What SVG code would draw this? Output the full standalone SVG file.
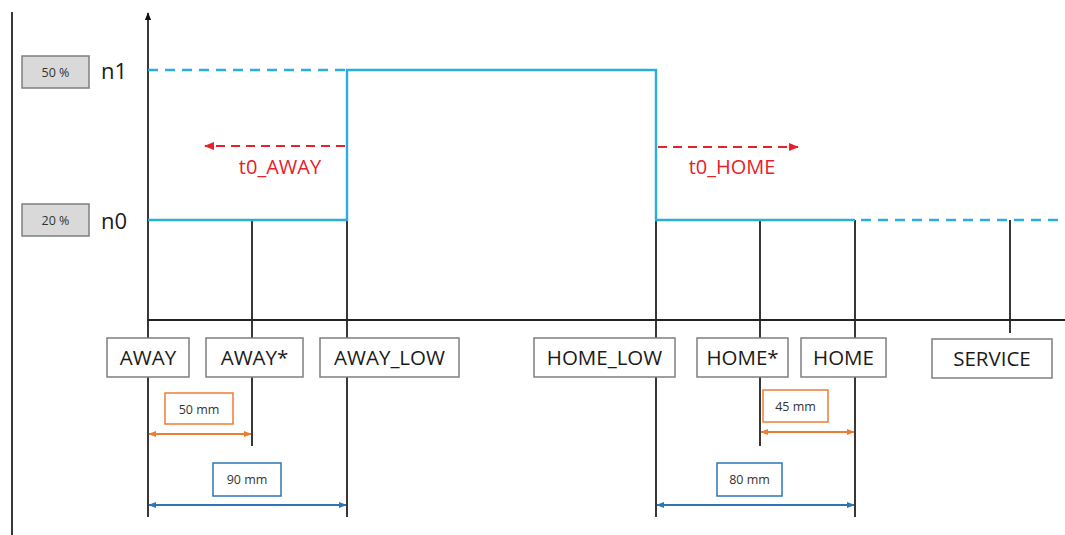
<svg xmlns="http://www.w3.org/2000/svg" width="1065" height="535" viewBox="0 0 1065 535">
<defs>
<style>
.lbl{fill:#fff;stroke:#7f7f7f;stroke-width:1.5}
.lt{font-family:"Open Sans","Liberation Sans",sans-serif;font-size:20.5px;fill:#1a1a1a;text-anchor:middle}
.pct{fill:#d9d9d9;stroke:#7f7f7f;stroke-width:1.5}
.pt{font-family:"Open Sans","Liberation Sans",sans-serif;font-size:12.5px;fill:#333;text-anchor:middle}
.lv{font-family:"Open Sans","Liberation Sans",sans-serif;font-size:22px;fill:#1a1a1a}
.mm{font-family:"Open Sans","Liberation Sans",sans-serif;font-size:12.5px;fill:#333;text-anchor:middle}
.red{font-family:"Open Sans","Liberation Sans",sans-serif;font-size:20px;fill:#e8202a;text-anchor:middle}
.blk{stroke:#222;stroke-width:1.8;fill:none}
.cy{stroke:#2aaee0;stroke-width:2.4;fill:none}
.cyd{stroke:#2aaee0;stroke-width:2.4;fill:none;stroke-dasharray:10 7}
.rd{stroke:#e8202a;stroke-width:2.2;fill:none;stroke-dasharray:9 6}
</style>
<marker id="ar" viewBox="0 0 10 10" refX="9" refY="5" markerWidth="10" markerHeight="10" markerUnits="userSpaceOnUse" orient="auto-start-reverse"><path d="M0,1 L10,5 L0,9 z" fill="#e8202a"/></marker>
<marker id="ao" viewBox="0 0 10 10" refX="9" refY="5" markerWidth="8" markerHeight="8" markerUnits="userSpaceOnUse" orient="auto-start-reverse"><path d="M0,1 L10,5 L0,9 z" fill="#ed7d31"/></marker>
<marker id="ab" viewBox="0 0 10 10" refX="9" refY="5" markerWidth="8" markerHeight="8" markerUnits="userSpaceOnUse" orient="auto-start-reverse"><path d="M0,1 L10,5 L0,9 z" fill="#2e75b6"/></marker>
<marker id="ak" viewBox="0 0 10 10" refX="9" refY="5" markerWidth="8" markerHeight="8" markerUnits="userSpaceOnUse" orient="auto"><path d="M0,1 L10,5 L0,9 z" fill="#111"/></marker>
</defs>
<rect width="1065" height="535" fill="#fff"/>
<g id="connectors">
<line class="blk" x1="12" y1="12" x2="12" y2="535" stroke-width="2.4"/>
<line class="blk" x1="148" y1="320" x2="148" y2="13" stroke-width="2.4" marker-end="url(#ak)"/>
<line class="blk" x1="147" y1="320" x2="1065" y2="320" stroke-width="2.4"/>
<line class="blk" x1="148" y1="320" x2="148" y2="517"/>
<line class="blk" x1="252" y1="220" x2="252" y2="446"/>
<line class="blk" x1="347" y1="220" x2="347" y2="517"/>
<line class="blk" x1="656" y1="220" x2="656" y2="517"/>
<line class="blk" x1="760" y1="220" x2="760" y2="446"/>
<line class="blk" x1="855" y1="220" x2="855" y2="517"/>
<line class="blk" x1="1010" y1="220" x2="1010" y2="333"/>
<line class="cyd" x1="148" y1="70" x2="347" y2="70"/>
<polyline class="cy" points="148,220 347,220 347,70 656,70 656,220 855,220"/>
<line class="cyd" x1="861" y1="220" x2="1060" y2="220"/>
<line class="rd" x1="345" y1="146" x2="205" y2="146" marker-end="url(#ar)"/>
<line class="rd" x1="658" y1="147" x2="798" y2="147" marker-end="url(#ar)"/>
<line stroke="#ed7d31" stroke-width="2.2" x1="149" y1="434" x2="251" y2="434" marker-start="url(#ao)" marker-end="url(#ao)"/>
<line stroke="#2e75b6" stroke-width="2.2" x1="149" y1="505" x2="346" y2="505" marker-start="url(#ab)" marker-end="url(#ab)"/>
<line stroke="#ed7d31" stroke-width="2.2" x1="761" y1="432" x2="854" y2="432" marker-start="url(#ao)" marker-end="url(#ao)"/>
<line stroke="#2e75b6" stroke-width="2.2" x1="657" y1="505" x2="854" y2="505" marker-start="url(#ab)" marker-end="url(#ab)"/>
</g>
<g id="pct50"><rect class="pct" x="22" y="56" width="67" height="32"/><text class="pt" x="55.5" y="77">50 %</text></g>
<g id="pct20"><rect class="pct" x="22" y="204" width="67" height="32"/><text class="pt" x="55.5" y="225">20 %</text></g>
<g id="n1"><text class="lv" x="101" y="79">n1</text></g>
<g id="n0"><text class="lv" x="101" y="229">n0</text></g>
<g id="t0away"><text class="red" x="280" y="174">t0_AWAY</text></g>
<g id="t0home"><text class="red" x="732" y="174">t0_HOME</text></g>
<g id="away"><rect class="lbl" x="107" y="338" width="82" height="39"/><text class="lt" x="148" y="365">AWAY</text></g>
<g id="awaystar"><rect class="lbl" x="206" y="338" width="97" height="39"/><text class="lt" x="254.5" y="365">AWAY*</text></g>
<g id="awaylow"><rect class="lbl" x="320" y="338" width="139" height="39"/><text class="lt" x="389.5" y="365">AWAY_LOW</text></g>
<g id="homelow"><rect class="lbl" x="534" y="338" width="141" height="39"/><text class="lt" x="604.5" y="365">HOME_LOW</text></g>
<g id="homestar"><rect class="lbl" x="697" y="338" width="91" height="39"/><text class="lt" x="742.5" y="365">HOME*</text></g>
<g id="home"><rect class="lbl" x="801" y="338" width="85" height="39"/><text class="lt" x="843.5" y="365">HOME</text></g>
<g id="service"><rect class="lbl" x="932" y="339" width="120" height="39"/><text class="lt" x="992" y="366">SERVICE</text></g>
<g id="d50"><rect x="165" y="393" width="68" height="31" fill="#fff" stroke="#ed7d31" stroke-width="1.5"/><text class="mm" x="199" y="414">50 mm</text></g>
<g id="d90"><rect x="213" y="463" width="68" height="33" fill="#fff" stroke="#2e75b6" stroke-width="1.5"/><text class="mm" x="247" y="484">90 mm</text></g>
<g id="d45"><rect x="763" y="390" width="65" height="32" fill="#fff" stroke="#ed7d31" stroke-width="1.5"/><text class="mm" x="795.5" y="411">45 mm</text></g>
<g id="d80"><rect x="717" y="463" width="65" height="33" fill="#fff" stroke="#2e75b6" stroke-width="1.5"/><text class="mm" x="749.5" y="484">80 mm</text></g>
</svg>
